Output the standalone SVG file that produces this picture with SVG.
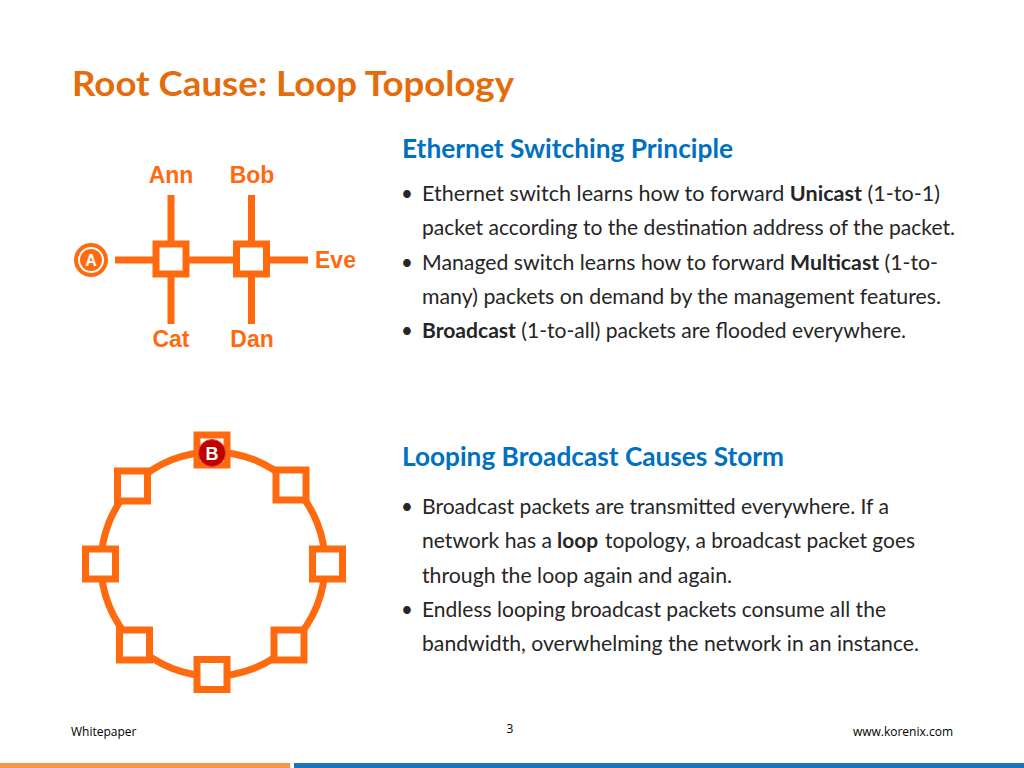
<svg xmlns="http://www.w3.org/2000/svg" width="1024" height="768" viewBox="0 0 1024 768">
<style>
.title{font-family:Lato,"Open Sans","Liberation Sans",sans-serif;font-weight:bold;font-size:35px;fill:#E46C0A}
.head{font-family:Lato,"Open Sans","Liberation Sans",sans-serif;font-weight:bold;font-size:26px;fill:#0070C0}
.body{font-family:Lato,"Open Sans","Liberation Sans",sans-serif;font-size:20.5px;fill:#262626}
.b{font-weight:bold}
.lbl{font-family:"Liberation Sans",Arial,sans-serif;font-weight:bold;font-size:23px;fill:#FF6A0F}
.foot{font-family:"Open Sans","Liberation Sans",sans-serif;font-size:12px;fill:#000}
.wire{stroke:#FF6A0F;stroke-width:7;fill:none}
.sw{stroke:#FF6A0F;stroke-width:7;fill:#fff}
</style>
<rect width="1024" height="768" fill="#fff"/>
<text class="title" x="72" y="96" textLength="442" lengthAdjust="spacingAndGlyphs">Root Cause: Loop Topology</text>

<g id="connectors">
<line class="wire" x1="115" y1="260" x2="308" y2="260"/>
<line class="wire" x1="171" y1="195" x2="171" y2="324"/>
<line class="wire" x1="251.5" y1="195" x2="251.5" y2="324"/>
<circle class="wire" cx="213" cy="564" r="112"/>
</g>

<g id="node-A">
<circle cx="91" cy="260" r="17" fill="#FF6A0F"/>
<circle cx="91" cy="260" r="12" fill="none" stroke="#fff" stroke-width="2"/>
<text x="91" y="266" text-anchor="middle" font-family="Liberation Sans,Arial,sans-serif" font-weight="bold" font-size="16" fill="#fff">A</text>
</g>
<g id="switch-1"><rect class="sw" x="156" y="244" width="30" height="30"/></g>
<g id="switch-2"><rect class="sw" x="236.5" y="244" width="30" height="30"/></g>
<g id="label-ann"><text class="lbl" x="171" y="183" text-anchor="middle">Ann</text></g>
<g id="label-bob"><text class="lbl" x="252" y="183" text-anchor="middle">Bob</text></g>
<g id="label-cat"><text class="lbl" x="171" y="347" text-anchor="middle">Cat</text></g>
<g id="label-dan"><text class="lbl" x="252" y="347" text-anchor="middle">Dan</text></g>
<g id="label-eve"><text class="lbl" x="315" y="268">Eve</text></g>

<g id="ring-top"><rect class="sw" x="197" y="435" width="30" height="30"/>
<circle cx="212" cy="453" r="13.5" fill="#C00000" stroke="#E04040" stroke-width="1"/>
<text x="212" y="460" text-anchor="middle" font-family="Liberation Sans,Arial,sans-serif" font-weight="bold" font-size="18" fill="#fff">B</text></g>
<g id="ring-tl"><rect class="sw" x="117.5" y="471" width="30" height="30"/></g>
<g id="ring-tr"><rect class="sw" x="276" y="470" width="30" height="30"/></g>
<g id="ring-l"><rect class="sw" x="85.5" y="549" width="30" height="30"/></g>
<g id="ring-r"><rect class="sw" x="312.5" y="549" width="30" height="30"/></g>
<g id="ring-bl"><rect class="sw" x="119.5" y="630" width="30" height="30"/></g>
<g id="ring-br"><rect class="sw" x="274" y="630" width="30" height="30"/></g>
<g id="ring-b"><rect class="sw" x="197" y="659.5" width="30" height="30"/></g>

<text class="head" x="402" y="158" textLength="331" lengthAdjust="spacingAndGlyphs">Ethernet Switching Principle</text>
<g class="body">
<text x="401" y="201">•</text>
<text x="422" y="201" textLength="518" lengthAdjust="spacingAndGlyphs">Ethernet switch learns how to forward <tspan class="b">Unicast</tspan> (1-to-1)</text>
<text x="422" y="235" textLength="533" lengthAdjust="spacingAndGlyphs">packet according to the destination address of the packet.</text>
<text x="401" y="270">•</text>
<text x="422" y="270" textLength="516" lengthAdjust="spacingAndGlyphs">Managed switch learns how to forward <tspan class="b">Multicast</tspan> (1-to-</text>
<text x="422" y="304" textLength="519" lengthAdjust="spacingAndGlyphs">many) packets on demand by the management features.</text>
<text x="401" y="338">•</text>
<text x="422" y="338" textLength="484" lengthAdjust="spacingAndGlyphs"><tspan class="b">Broadcast</tspan> (1-to-all) packets are flooded everywhere.</text>
</g>

<text class="head" x="402" y="466" textLength="382" lengthAdjust="spacingAndGlyphs">Looping Broadcast Causes Storm</text>
<g class="body">
<text x="401" y="514">•</text>
<text x="422" y="514" textLength="467" lengthAdjust="spacingAndGlyphs">Broadcast packets are transmitted everywhere. If a</text>
<text x="422" y="548" textLength="130" lengthAdjust="spacingAndGlyphs">network has a</text>
<text x="557" y="548" class="b" textLength="41" lengthAdjust="spacingAndGlyphs">loop</text>
<text x="605" y="548" textLength="310" lengthAdjust="spacingAndGlyphs">topology, a broadcast packet goes</text>
<text x="422" y="583" textLength="310" lengthAdjust="spacingAndGlyphs">through the loop again and again.</text>
<text x="401" y="617">•</text>
<text x="422" y="617" textLength="464" lengthAdjust="spacingAndGlyphs">Endless looping broadcast packets consume all the</text>
<text x="422" y="651" textLength="497" lengthAdjust="spacingAndGlyphs">bandwidth, overwhelming the network in an instance.</text>
</g>

<text class="foot" x="71" y="736">Whitepaper</text>
<text class="foot" x="510" y="733" text-anchor="middle">3</text>
<text class="foot" x="953" y="736" text-anchor="end">www.korenix.com</text>
<rect x="0" y="763" width="290" height="5" fill="#F79646"/>
<rect x="294" y="763" width="730" height="5" fill="#1C75BC"/>
</svg>
